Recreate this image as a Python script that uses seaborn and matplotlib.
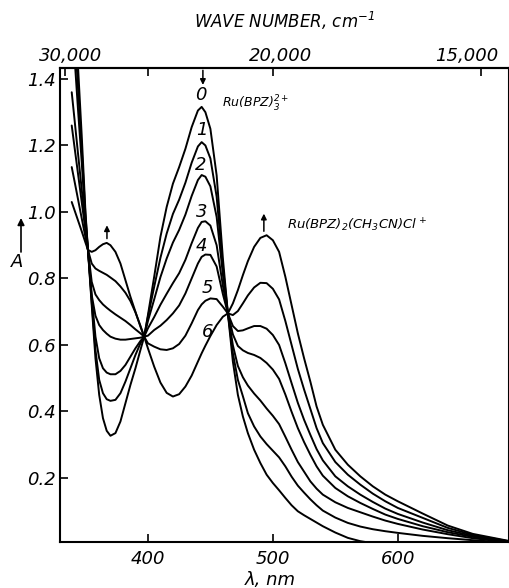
import numpy as np
import pandas as pd
import matplotlib
matplotlib.use('Agg')
import matplotlib.pyplot as plt
import matplotlib.transforms as mtransforms
import seaborn as sns

# wavelength grid, nm
wl = [339, 341, 344, 347, 350, 352, 355, 358, 361, 364,
      367, 370, 374, 378, 382, 386, 390, 394, 397, 400,
      405, 410, 415, 420, 425, 430, 435, 440, 443, 446,
      450, 455, 460, 464, 468, 472, 476, 480, 485, 490,
      495, 500, 505, 510, 515, 520, 525, 530, 535, 540,
      550, 560, 570, 580, 590, 600, 620, 640, 660, 690]

# absorbance of the spectra 0..6
a0 = [1.80, 1.66, 1.44, 1.23, 1.00, 0.886, 0.72, 0.56, 0.45, 0.38,
      0.342, 0.327, 0.335, 0.37, 0.425, 0.48, 0.53, 0.585, 0.625, 0.69,
      0.805, 0.925, 1.015, 1.085, 1.135, 1.19, 1.255, 1.305, 1.316, 1.30,
      1.25, 1.11, 0.86, 0.695, 0.55, 0.45, 0.385, 0.335, 0.285, 0.245,
      0.21, 0.185, 0.163, 0.14, 0.118, 0.10, 0.088, 0.077, 0.066, 0.055,
      0.036, 0.02, 0.01, 0.004, 0.002, 0.001, 0.0, 0.0, 0.0, 0.0]
a1 = [1.69, 1.57, 1.375, 1.19, 0.99, 0.886, 0.73, 0.585, 0.495, 0.455,
      0.437, 0.432, 0.435, 0.455, 0.49, 0.53, 0.57, 0.605, 0.625, 0.685,
      0.775, 0.862, 0.935, 0.994, 1.037, 1.088, 1.148, 1.197, 1.21, 1.20,
      1.161, 1.046, 0.835, 0.695, 0.575, 0.495, 0.446, 0.395, 0.355, 0.325,
      0.302, 0.282, 0.262, 0.235, 0.204, 0.177, 0.156, 0.136, 0.118, 0.102,
      0.081, 0.065, 0.054, 0.046, 0.04, 0.035, 0.026, 0.019, 0.013, 0.005]
a2 = [1.59, 1.48, 1.31, 1.15, 0.975, 0.886, 0.745, 0.625, 0.56, 0.53,
      0.517, 0.512, 0.512, 0.522, 0.54, 0.565, 0.59, 0.612, 0.625, 0.672,
      0.737, 0.804, 0.86, 0.908, 0.946, 0.992, 1.048, 1.096, 1.111, 1.106,
      1.077, 0.985, 0.812, 0.695, 0.599, 0.537, 0.503, 0.478, 0.454, 0.433,
      0.409, 0.387, 0.362, 0.324, 0.285, 0.248, 0.219, 0.19, 0.168, 0.15,
      0.127, 0.11, 0.097, 0.084, 0.072, 0.062, 0.045, 0.031, 0.019, 0.006]
a3 = [1.36, 1.287, 1.177, 1.068, 0.959, 0.886, 0.75, 0.688, 0.66, 0.645,
      0.634, 0.625, 0.619, 0.616, 0.616, 0.618, 0.62, 0.622, 0.625, 0.65,
      0.684, 0.721, 0.754, 0.786, 0.816, 0.856, 0.906, 0.952, 0.97, 0.972,
      0.959, 0.90, 0.778, 0.695, 0.632, 0.597, 0.584, 0.576, 0.57, 0.561,
      0.546, 0.526, 0.498, 0.451, 0.399, 0.35, 0.308, 0.27, 0.235, 0.207,
      0.17, 0.145, 0.125, 0.107, 0.09, 0.077, 0.055, 0.037, 0.023, 0.007]
a4 = [1.26, 1.202, 1.116, 1.03, 0.944, 0.886, 0.79, 0.752, 0.735, 0.722,
      0.712, 0.703, 0.692, 0.682, 0.672, 0.66, 0.647, 0.635, 0.625, 0.628,
      0.645, 0.658, 0.675, 0.695, 0.719, 0.755, 0.80, 0.845, 0.865, 0.872,
      0.871, 0.836, 0.753, 0.695, 0.657, 0.642, 0.644, 0.65, 0.657, 0.657,
      0.649, 0.63, 0.60, 0.545, 0.485, 0.426, 0.375, 0.33, 0.287, 0.253,
      0.205, 0.175, 0.15, 0.128, 0.108, 0.092, 0.066, 0.043, 0.026, 0.008]
a5 = [1.135, 1.097, 1.039, 0.981, 0.924, 0.886, 0.845, 0.83, 0.823, 0.817,
      0.811, 0.803, 0.792, 0.776, 0.757, 0.732, 0.698, 0.658, 0.625, 0.605,
      0.595, 0.587, 0.585, 0.59, 0.603, 0.628, 0.665, 0.705, 0.722, 0.733,
      0.74, 0.738, 0.715, 0.695, 0.69, 0.702, 0.725, 0.749, 0.773, 0.787,
      0.786, 0.769, 0.737, 0.672, 0.60, 0.528, 0.466, 0.408, 0.35, 0.305,
      0.248, 0.21, 0.18, 0.153, 0.13, 0.11, 0.08, 0.05, 0.029, 0.009]
a6 = [1.03, 1.008, 0.975, 0.942, 0.908, 0.886, 0.88, 0.885, 0.895, 0.903,
      0.907, 0.90, 0.88, 0.845, 0.795, 0.745, 0.70, 0.655, 0.625, 0.59,
      0.535, 0.487, 0.456, 0.445, 0.452, 0.475, 0.508, 0.55, 0.575, 0.598,
      0.627, 0.66, 0.685, 0.695, 0.725, 0.765, 0.81, 0.852, 0.895, 0.922,
      0.93, 0.915, 0.88, 0.805, 0.72, 0.635, 0.56, 0.49, 0.415, 0.36,
      0.285, 0.24, 0.205, 0.175, 0.15, 0.13, 0.093, 0.057, 0.032, 0.01]

curves = [a0, a1, a2, a3, a4, a5, a6]

# top axis: wave number ticks and labels
wn_ticks = [30000, 25000, 20000, 15000]
wn_labels = ['30,000', '', '20,000', '15,000']

rows = []
for k, vals in enumerate(curves):
    for w, a in zip(wl, vals):
        rows.append((k, w, a))
df = pd.DataFrame(rows, columns=['curve', 'wl', 'A'])

sns.set_style('ticks')
plt.rcParams['font.family'] = ['DejaVu Sans']
plt.rcParams['font.style'] = 'italic'
plt.rcParams['mathtext.default'] = 'it'
for key in ['text.color', 'axes.labelcolor', 'xtick.color', 'ytick.color', 'axes.edgecolor']:
    plt.rcParams[key] = 'black'

fig = plt.figure(figsize=(5.1, 5.88), dpi=100)
ax = fig.add_axes([0.1176, 0.0782, 0.8804, 0.8062])

sns.lineplot(data=df, x='wl', y='A', units='curve', estimator=None,
             color='black', lw=1.4, ax=ax, legend=False)

ax.set_xlim(329.6, 689)
ax.set_ylim(0.0075, 1.433)

for s in ax.spines.values():
    s.set_linewidth(1.5)
    s.set_color('black')

ax.set_xticks([400, 500, 600])
ax.set_xticklabels(['400', '500', '600'])
ax.set_yticks([0.2, 0.4, 0.6, 0.8, 1.0, 1.2, 1.4])
ax.set_yticklabels(['0.2', '0.4', '0.6', '0.8', '1.0', '1.2', '1.4'])
ax.tick_params(axis='x', direction='in', length=6, width=1.2, labelsize=13, pad=6, colors='black')
ax.tick_params(axis='y', direction='in', length=6, width=1.2, labelsize=13, pad=3, colors='black')
ax.set_ylabel('')
ax.set_xlabel('λ, nm', fontsize=13, color='black')
ax.xaxis.set_label_coords(0.468, -0.062)


def to_wn(x):
    x = np.asarray(x, dtype=float)
    with np.errstate(divide='ignore'):
        return 1e7 / x


secax = ax.secondary_xaxis('top', functions=(to_wn, to_wn))
secax.set_xticks(wn_ticks)
secax.set_xticklabels(wn_labels)
secax.tick_params(direction='in', length=6, width=1.2, labelsize=13, pad=2, colors='black')
secax.spines['top'].set_linewidth(1.5)
secax.set_xlabel('WAVE NUMBER, cm$^{-1}$', fontsize=12, labelpad=14, color='black')

# nudge the top labels sideways like in the original lettering
for lbl, dx in zip(secax.get_xticklabels(), [6, 0, 8, -14]):
    lbl.set_transform(lbl.get_transform() + mtransforms.ScaledTranslation(dx / 100, 0, fig.dpi_scale_trans))

# curve numbers
num_pos = [(442.4, 1.352), (443.2, 1.247), (442.4, 1.141), (443.2, 1.0),
           (443.2, 0.898), (447.2, 0.771), (448.0, 0.639)]
for k, (x, y) in enumerate(num_pos):
    ax.text(x, y, str(k), ha='center', va='center', fontsize=13, color='black')

ax.text(459, 1.325, r'$\mathit{Ru(BPZ)}_3^{2+}$', fontsize=9, ha='left', va='center', color='black')
ax.text(511, 0.96, r'$\mathit{Ru(BPZ)}_2\mathit{(CH}_3\mathit{CN)Cl}^+$', fontsize=9.5,
        ha='left', va='center', color='black')

arrow = dict(arrowstyle='-|>', color='black', lw=1.1, mutation_scale=8, shrinkA=0, shrinkB=0)
ax.annotate('', xy=(444, 1.382), xytext=(444, 1.426), arrowprops=arrow)
ax.annotate('', xy=(492.8, 0.995), xytext=(492.8, 0.942), arrowprops=arrow)
ax.annotate('', xy=(367.2, 0.96), xytext=(367.2, 0.92), arrowprops=arrow)

# y label with arrow
fig.text(17 / 510, 1 - 262 / 588, 'A', fontsize=13, ha='center', va='center', color='black')
ax.annotate('', xy=(21 / 510, 1 - 218 / 588), xytext=(21 / 510, 1 - 252 / 588),
            xycoords='figure fraction', textcoords='figure fraction',
            arrowprops=dict(arrowstyle='-|>', color='black', lw=1.2, mutation_scale=10,
                            shrinkA=0, shrinkB=0))

fig.savefig('out.png', dpi=100)
